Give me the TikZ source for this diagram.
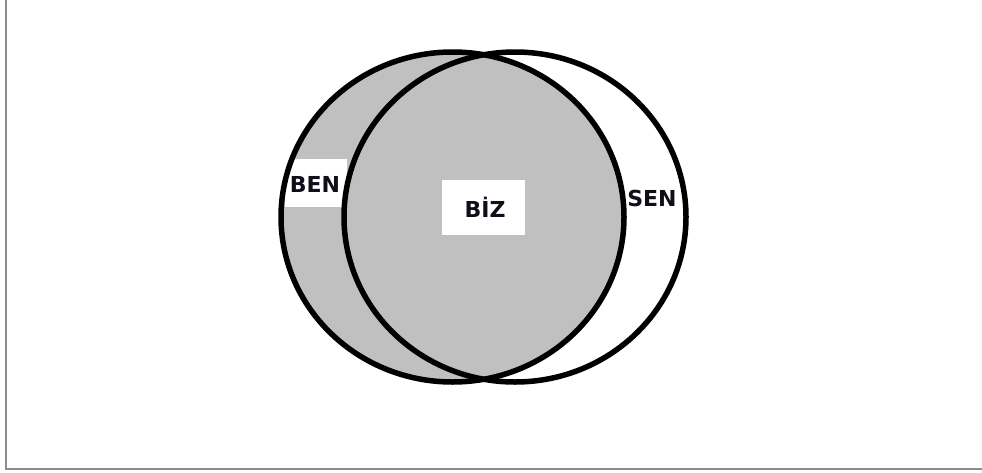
\documentclass[tikz,border=0pt]{standalone}
\usepackage{fontspec}
\setmainfont{DejaVu Sans}
\usetikzlibrary{positioning}
\definecolor{cgrey}{RGB}{192,192,192}
\definecolor{cframe}{RGB}{140,140,140}
\definecolor{ctext}{RGB}{15,15,25}

\begin{document}
\begin{tikzpicture}[
    x=1pt, y=-1pt,
    ring/.style={draw=black, line width=5.5pt},
    lbl/.style={font=\fontsize{22}{24}\selectfont\bfseries, text=ctext, inner sep=0pt},
    patch/.style={fill=white, minimum width=#1, minimum height=48pt, inner sep=0pt},
    patch/.default=60pt
]
\useasboundingbox (0,0) rectangle (982,472);

% frame (left and bottom edges only)
\draw[cframe, line width=2pt] (6,0) -- (6,469) -- (982,469);

% shaded set
\fill[cgrey] (452.5,217) ellipse [x radius=171.5, y radius=165];

% white patches behind the labels
\node[patch=62pt] (benbg) at (316,183) {};
\node[patch=83pt, minimum height=55pt] (bizbg) at (483.5,207.5) {};

% outlines
\draw[ring] (452.5,217) ellipse [x radius=171.5, y radius=165];
\draw[ring] (515,217) ellipse [x radius=171, y radius=165];

% labels
\node[lbl] (ben) at (315,184) {BEN};
\node[lbl] (biz) at (485,207) {BİZ};
\node[lbl] (sen) at (652,198) {SEN};

\end{tikzpicture}
\end{document}
